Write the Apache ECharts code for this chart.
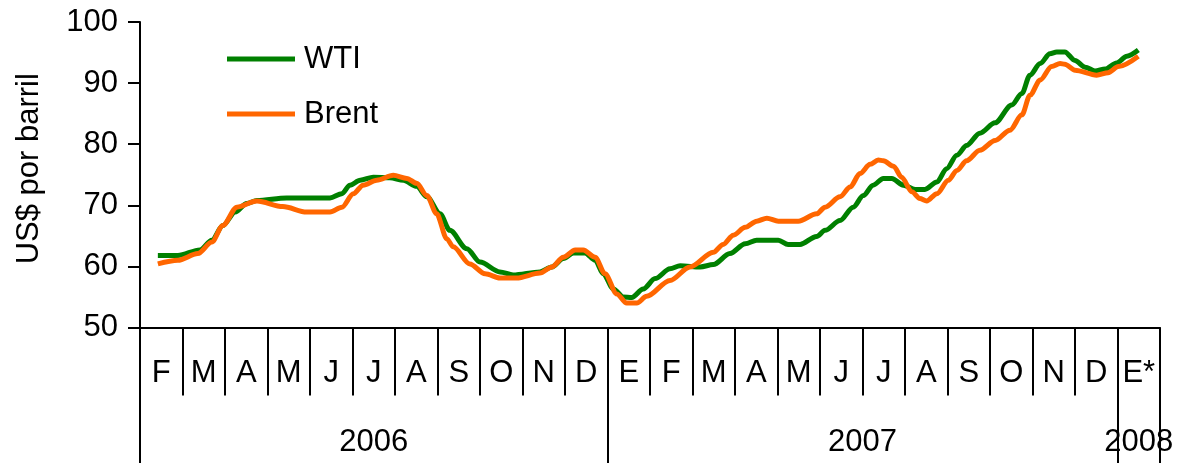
<!DOCTYPE html>
<html>
<head>
<meta charset="utf-8">
<script src="https://cdn.jsdelivr.net/npm/echarts@6/dist/echarts.min.js"></script>
<style>
html,body{margin:0;padding:0;background:#fff;}
#chart{width:1177px;height:463px;}
</style>
</head>
<body>
<div id="chart"></div>
<script>
// Month categories (Feb 2006 .. Jan 2008)
const months = ['F','M','A','M','J','J','A','S','O','N','D','E','F','M','A','M','J','J','A','S','O','N','D','E*'];
const years = ['2006','2007','2008'];
const yearStart = [0, 11, 23];
const yearEnd = [11, 23, 24];
const yTicks = [50, 60, 70, 80, 90, 100];

// Positions are in months from start of Feb 2006
const wtiPos = [0.42,0.89,1.41,1.69,1.95,2.24,2.51,2.75,3.45,4.12,4.47,4.75,4.94,5.18,5.49,5.88,6.2,6.51,6.75,7.06,7.29,7.69,8.0,8.47,8.78,9.41,9.69,9.96,10.2,10.47,10.71,10.9,11.14,11.37,11.57,11.84,12.12,12.47,12.71,13.18,13.49,13.88,14.24,14.51,15.02,15.25,15.53,15.92,16.12,16.47,16.78,17.02,17.25,17.49,17.69,17.96,18.24,18.47,18.75,18.98,19.22,19.45,19.76,20.12,20.51,20.75,20.94,21.18,21.41,21.57,21.76,22.0,22.24,22.47,22.71,22.98,23.22,23.49];
const wtiVal = [61.8,61.8,62.7,64.3,66.7,68.9,70.3,70.8,71.2,71.2,71.2,71.9,73.3,74.1,74.6,74.5,74.1,73.1,71.4,68.6,65.9,62.9,60.7,59.1,58.6,59.1,59.9,61.3,62.2,62.2,61.0,58.8,56.3,55.0,54.9,56.3,58.0,59.6,60.1,59.9,60.3,62.1,63.7,64.3,64.3,63.6,63.6,64.9,65.9,67.5,69.7,71.6,73.3,74.4,74.4,73.3,72.6,72.6,73.8,76.0,78.2,79.8,81.8,83.5,86.4,88.3,91.3,93.2,94.8,95.1,95.1,93.7,92.6,92.0,92.3,93.3,94.4,95.4];

const brentPos = [0.42,0.89,1.36,1.69,1.95,2.28,2.75,3.36,3.92,4.47,4.75,5.02,5.25,5.57,5.96,6.28,6.51,6.75,6.98,7.22,7.37,7.76,8.12,8.47,8.86,9.41,9.69,9.96,10.24,10.43,10.71,10.94,11.22,11.45,11.69,11.92,12.47,12.94,13.49,13.72,13.96,14.24,14.51,14.75,15.02,15.49,15.92,16.12,16.47,16.71,16.94,17.18,17.37,17.49,17.73,17.92,18.16,18.35,18.51,18.75,19.02,19.22,19.45,19.76,20.12,20.47,20.75,20.94,21.18,21.45,21.65,21.76,22.0,22.51,22.78,23.02,23.49];
const brentVal = [60.4,61.0,62.1,64.0,66.7,69.7,70.7,69.8,68.9,68.9,69.7,71.9,73.3,74.1,74.9,74.4,73.6,71.6,68.6,64.5,63.2,60.4,58.8,58.1,58.1,58.9,59.9,61.5,62.7,62.7,61.5,58.8,55.5,54.0,54.0,55.1,57.7,59.9,62.3,63.6,65.1,66.4,67.4,67.9,67.4,67.4,68.6,69.7,71.4,73.0,75.2,76.7,77.4,77.3,76.4,74.6,72.2,71.1,70.7,71.9,74.1,75.7,77.3,79.0,80.6,82.3,84.8,88.0,90.5,92.7,93.2,93.1,92.1,91.3,91.7,92.7,94.4];

const FONT = 'Liberation Sans, Arial, sans-serif';
const FS = 31;
const chart = echarts.init(document.getElementById('chart'), null, {renderer: 'canvas'});

const option = {
  animation: false,
  backgroundColor: '#fff',
  textStyle: {fontFamily: FONT, color: '#000'},
  grid: {left: 140, right: 17, top: 22, bottom: 135.5},
  legend: {
    orient: 'vertical', left: 222, top: 38, itemGap: 23, padding: 5,
    icon: 'rect', itemWidth: 68, itemHeight: 5,
    textStyle: {fontSize: FS, fontFamily: FONT, color: '#000', lineHeight: 32, padding: [0,0,0,4]},
    data: ['WTI', 'Brent']
  },
  xAxis: [
    {type: 'value', min: 0, max: 24, position: 'bottom',
     axisLine: {show: true, lineStyle: {color: '#000', width: 2}},
     axisTick: {show: false}, axisLabel: {show: false}, splitLine: {show: false}},
    {type: 'category', data: months, position: 'bottom', boundaryGap: true,
     axisLine: {show: false},
     axisTick: {show: true, interval: 0, length: 68, alignWithLabel: false, lineStyle: {color: '#000', width: 2}},
     axisLabel: {interval: 0, fontSize: FS, fontFamily: FONT, color: '#000', margin: 30, hideOverlap: false},
     splitLine: {show: false}},
    {type: 'category', data: months, position: 'bottom', boundaryGap: true,
     axisLine: {show: false},
     axisTick: {show: true, length: 140, alignWithLabel: false,
       interval: function (i) { return yearStart.indexOf(i) >= 0; },
       lineStyle: {color: '#000', width: 2}},
     axisLabel: {show: false}, splitLine: {show: false}}
  ],
  yAxis: {
    type: 'value', min: yTicks[0], max: yTicks[yTicks.length - 1], interval: 10,
    name: 'US$ por barril', nameLocation: 'middle', nameGap: 95, nameRotate: 90,
    nameTextStyle: {fontSize: FS, fontFamily: FONT, color: '#000', padding: [0, 0, 0, 12]},
    axisLine: {show: true, lineStyle: {color: '#000', width: 2}},
    axisTick: {show: true, inside: false, length: 12, lineStyle: {color: '#000', width: 2}},
    axisLabel: {fontSize: FS, fontFamily: FONT, color: '#000', margin: 22},
    splitLine: {show: false}
  },
  series: [
    {name: 'WTI', type: 'line', xAxisIndex: 0, showSymbol: false, symbol: 'none',
     smooth: 0.3, smoothMonotone: 'x',
     lineStyle: {color: '#008000', width: 5}, itemStyle: {color: '#008000'},
     data: wtiPos.map((p, i) => [p, wtiVal[i]])},
    {name: 'Brent', type: 'line', xAxisIndex: 0, showSymbol: false, symbol: 'none',
     smooth: 0.3, smoothMonotone: 'x',
     lineStyle: {color: '#FF6600', width: 5}, itemStyle: {color: '#FF6600'},
     data: brentPos.map((p, i) => [p, brentVal[i]])}
  ]
};
chart.setOption(option);

// Year labels centred under each year block, positioned through the axis scale
const axisY = chart.convertToPixel({yAxisIndex: 0}, yTicks[0]);
const yearTexts = years.map((y, i) => {
  const cx = chart.convertToPixel({xAxisIndex: 0}, (yearStart[i] + yearEnd[i]) / 2);
  return {type: 'text', x: cx, y: axisY + 115,
    style: {text: y, fontSize: FS, fontFamily: FONT, fill: '#000', align: 'center', verticalAlign: 'middle'}};
});
chart.setOption({graphic: yearTexts});
</script>
</body>
</html>
